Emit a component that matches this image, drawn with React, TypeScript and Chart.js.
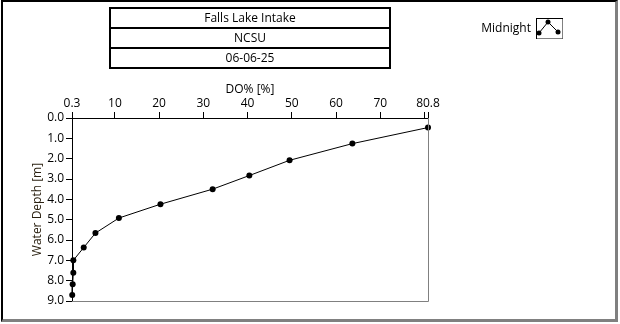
import React, { useEffect, useRef } from "react";
import { Chart, registerables } from "chart.js";

Chart.register(...registerables);

const titleLines = ["Falls Lake Intake", "NCSU", "06-06-25"];
const seriesName = "Midnight";
const xAxisTitle = "DO% [%]";
const yAxisTitle = "Water Depth [m]";
const depthM = [0.47, 1.26, 2.08, 2.83, 3.5, 4.24, 4.92, 5.66, 6.37, 7.0, 7.61, 8.18, 8.7];
const doPct = [80.8, 63.7, 49.5, 40.4, 32.1, 20.3, 10.9, 5.6, 2.95, 0.6, 0.6, 0.45, 0.35];
const xTicks = [0.3, 10, 20, 30, 40, 50, 60, 70, 80, 80.8];
const xHiddenTickLabels = [80];
const xMin = 0.3;
const xMax = 80.8;
const yMin = 0;
const yMax = 9;

const FONT = "'Segoe UI', 'Open Sans', sans-serif";
const FSIZE = 12;

const plotFrame = {
  id: "plotFrame",
  afterDraw(chart: any) {
    const { ctx, chartArea } = chart;
    ctx.save();
    ctx.strokeStyle = "#808080";
    ctx.lineWidth = 1;
    ctx.beginPath();
    ctx.moveTo(Math.round(chartArea.right) + 0.5, chartArea.top);
    ctx.lineTo(Math.round(chartArea.right) + 0.5, Math.round(chartArea.bottom) + 0.5);
    ctx.lineTo(chartArea.left, Math.round(chartArea.bottom) + 0.5);
    ctx.stroke();
    ctx.restore();
  },
};

export default function App() {
  const ref = useRef<HTMLCanvasElement>(null);
  useEffect(() => {
    if (!ref.current) return;
    const chart = new Chart(ref.current, {
      type: "line",
      data: {
        datasets: [
          {
            label: seriesName,
            data: doPct.map((v, i) => ({ x: v, y: depthM[i] })),
            borderColor: "#000",
            backgroundColor: "#000",
            borderWidth: 1,
            pointRadius: 3,
            pointBackgroundColor: "#000",
            pointBorderWidth: 0,
            tension: 0,
            clip: false,
          } as any,
        ],
      },
      plugins: [plotFrame],
      options: {
        animation: false,
        responsive: false,
        events: [],
        layout: { padding: { left: 26, top: 78, right: 192, bottom: 23 } },
        plugins: { legend: { display: false }, tooltip: { enabled: false } },
        scales: {
          x: {
            type: "linear",
            position: "top",
            min: xMin,
            max: xMax,
            afterBuildTicks: (s: any) => {
              s.ticks = xTicks.map((v) => ({ value: v }));
            },
            afterFit: (s: any) => {
              s.height = 40;
            },
            ticks: {
              autoSkip: false,
              maxRotation: 0,
              color: "#000",
              padding: 1,
              font: { family: FONT, size: FSIZE },
              callback: (v: any) => (xHiddenTickLabels.includes(Number(v)) ? "" : String(v)),
            },
            grid: { drawOnChartArea: false, tickLength: 6, color: "#000", tickColor: "#000" },
            border: { color: "#000", width: 1 },
            title: {
              display: true,
              text: xAxisTitle,
              color: "#000",
              font: { family: FONT, size: FSIZE },
              padding: { top: 4, bottom: 0 },
            },
          },
          y: {
            type: "linear",
            reverse: true,
            min: yMin,
            max: yMax,
            afterFit: (s: any) => {
              s.width = 46;
            },
            ticks: {
              stepSize: 1,
              color: "#000",
              padding: 2,
              font: { family: FONT, size: FSIZE },
              callback: (v: any) => Number(v).toFixed(1),
            },
            grid: { drawOnChartArea: false, tickLength: 6, color: "#000", tickColor: "#000" },
            border: { color: "#000", width: 1 },
            title: {
              display: true,
              text: yAxisTitle,
              color: "#2a2010",
              font: { family: FONT, size: FSIZE },
              padding: { top: 4, bottom: 0 },
            },
          },
        },
      },
    });
    return () => chart.destroy();
  }, []);

  return (
    <div
      style={{
        position: "fixed",
        left: 0,
        top: 0,
        width: 620,
        height: 324,
        background: "#fff",
        fontFamily: FONT,
        fontSize: FSIZE,
        color: "#000",
      }}
    >
      <canvas ref={ref} width={620} height={324} style={{ position: "absolute", left: 0, top: 0, width: 620, height: 324 }} />
      <div
        style={{
          position: "absolute",
          left: 1,
          top: 0,
          width: 617,
          height: 322,
          boxSizing: "border-box",
          borderLeft: "2px solid #000",
          borderTop: "2px solid #000",
          borderRight: "3px solid #808080",
          borderBottom: "3px solid #808080",
          pointerEvents: "none",
        }}
      />
      <div
        style={{
          position: "absolute",
          left: 109,
          top: 7,
          width: 282,
          boxSizing: "border-box",
          border: "2px solid #000",
        }}
      >
        {titleLines.map((t, i) => (
          <div
            key={i}
            style={{
              height: 18,
              lineHeight: "18px",
              textAlign: "center",
              borderTop: i === 0 ? "none" : "2px solid #000",
            }}
          >
            {t}
          </div>
        ))}
      </div>
      <div style={{ position: "absolute", left: 430, width: 101, top: 19, textAlign: "right", lineHeight: "18px" }}>
        {seriesName}
      </div>
      <svg style={{ position: "absolute", left: 536, top: 18 }} width={27} height={21}>
        <rect x={0.5} y={0.5} width={26} height={20} fill="#fff" stroke="#000" />
        <line x1={1} y1={20.5} x2={26.5} y2={20.5} stroke="#808080" />
        <line x1={26.5} y1={1} x2={26.5} y2={20.5} stroke="#808080" />
        <polyline points="3,15 12,4 22,14" fill="none" stroke="#000" strokeWidth={1} />
        <circle cx={3} cy={15} r={2.5} fill="#000" />
        <circle cx={12} cy={4} r={2.5} fill="#000" />
        <circle cx={22} cy={14} r={2.5} fill="#000" />
      </svg>
    </div>
  );
}
